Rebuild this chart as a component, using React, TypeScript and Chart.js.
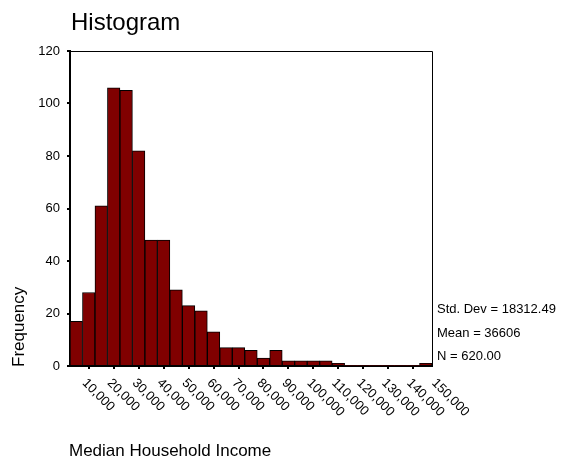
import React, { useEffect, useRef } from "react";
import { Chart, registerables } from "chart.js";

Chart.register(...registerables);

const FONT = "'Liberation Sans', Arial, Helvetica, sans-serif";

const titleText = "Histogram";
const xAxisTitle = "Median Household Income";
const yAxisTitle = "Frequency";

const binCenters = [
  10000, 15000, 20000, 25000, 30000, 35000, 40000, 45000, 50000, 55000,
  60000, 65000, 70000, 75000, 80000, 85000, 90000, 95000, 100000, 105000,
  110000, 115000, 120000, 125000, 130000, 135000, 140000, 145000, 150000,
];
const frequencies = [
  17, 28, 61, 106, 105, 82, 48, 48, 29, 23,
  21, 13, 7, 7, 6, 3, 6, 2, 2, 2,
  2, 1, 0, 0, 0, 0, 0, 0, 1,
];

const xTickValues = [
  10000, 20000, 30000, 40000, 50000, 60000, 70000, 80000, 90000, 100000,
  110000, 120000, 130000, 140000, 150000,
];
const xTickLabels = [
  "10,000", "20,000", "30,000", "40,000", "50,000", "60,000", "70,000", "80,000",
  "90,000", "100,000", "110,000", "120,000", "130,000", "140,000", "150,000",
];
const xMin = 7500;
const xMax = 152500;
const yMax = 120;
const yStep = 20;

const statsLines = ["Std. Dev = 18312.49", "Mean = 36606", "N = 620.00"];

const decorPlugin = {
  id: "decor",
  afterDraw(chart: any) {
    const { ctx, chartArea: a, scales } = chart;
    const xs = scales.x;
    ctx.save();
    // frame top and right
    ctx.strokeStyle = "#000";
    ctx.lineWidth = 1;
    ctx.beginPath();
    ctx.moveTo(a.left, a.top + 0.5);
    ctx.lineTo(a.right + 0.5, a.top + 0.5);
    ctx.lineTo(a.right + 0.5, a.bottom);
    ctx.stroke();

    ctx.fillStyle = "#000";
    // rotated x tick labels
    ctx.font = `13px ${FONT}`;
    ctx.textAlign = "left";
    ctx.textBaseline = "middle";
    xTickValues.forEach((v, i) => {
      const px = xs.getPixelForValue(v);
      ctx.save();
      ctx.translate(px + 8, a.bottom + 15);
      ctx.rotate(Math.PI / 4);
      ctx.fillText(xTickLabels[i], 0, 0);
      ctx.restore();
    });

    ctx.textBaseline = "alphabetic";
    // title
    ctx.font = `24px ${FONT}`;
    ctx.fillText(titleText, 71, 30);
    // x axis title
    ctx.font = `17px ${FONT}`;
    ctx.fillText(xAxisTitle, 69, 456);
    // y axis title
    ctx.save();
    ctx.translate(24, a.bottom + 1);
    ctx.rotate(-Math.PI / 2);
    ctx.fillText(yAxisTitle, 0, 0);
    ctx.restore();
    // stats
    ctx.font = `13px ${FONT}`;
    statsLines.forEach((s, i) => {
      ctx.fillText(s, a.right + 5, 313 + i * 23.5);
    });
    ctx.restore();
  },
};

export default function App() {
  const canvasRef = useRef<HTMLCanvasElement | null>(null);

  useEffect(() => {
    const canvas = canvasRef.current;
    if (!canvas) return;
    Chart.defaults.font.family = FONT;
    const chart = new Chart(canvas, {
      type: "bar",
      data: {
        datasets: [
          {
            data: binCenters.map((x, i) => ({ x, y: frequencies[i] })),
            backgroundColor: "#800000",
            borderColor: "#000000",
            borderWidth: (c: any) => (c.raw && c.raw.y === 0 ? 0 : 1),
            barPercentage: 1,
            categoryPercentage: 1,
          },
        ],
      },
      options: {
        animation: false,
        responsive: false,
        devicePixelRatio: 1,
        layout: { padding: { left: 0, top: 51, right: 133, bottom: 0 } },
        plugins: {
          legend: { display: false },
          tooltip: { enabled: false },
          title: { display: false },
        },
        scales: {
          x: {
            type: "linear",
            min: xMin,
            max: xMax,
            offset: false,
            afterBuildTicks: (s: any) => {
              s.ticks = xTickValues.map((v) => ({ value: v }));
            },
            afterFit: (s: any) => {
              s.height = 97;
            },
            ticks: { display: false },
            grid: {
              drawOnChartArea: false,
              drawTicks: true,
              tickLength: 3,
              color: "#000",
              lineWidth: 2,
            },
            border: { display: true, color: "#000", width: 2 },
          },
          y: {
            min: 0,
            max: yMax,
            afterFit: (s: any) => {
              s.width = 70;
            },
            ticks: {
              stepSize: yStep,
              color: "#000",
              font: { size: 13, family: FONT },
              padding: 7,
            },
            grid: {
              drawOnChartArea: false,
              drawTicks: true,
              tickLength: 3,
              color: "#000",
              lineWidth: 2,
            },
            border: { display: true, color: "#000", width: 2 },
          },
        },
      },
      plugins: [decorPlugin],
    } as any);
    return () => chart.destroy();
  }, []);

  return (
    <div
      style={{
        position: "absolute",
        left: 0,
        top: 0,
        width: 565,
        height: 463,
        background: "#fff",
      }}
    >
      <canvas ref={canvasRef} width={565} height={463} style={{ display: "block" }} />
    </div>
  );
}
